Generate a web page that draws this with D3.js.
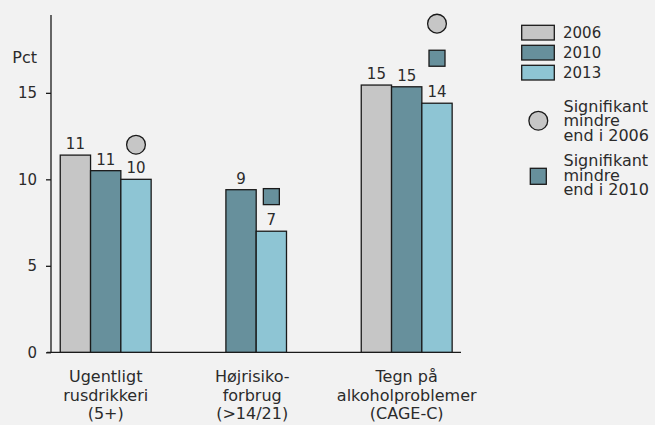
<!DOCTYPE html>
<html><head><meta charset="utf-8">
<script src="https://cdn.jsdelivr.net/npm/d3@7"></script>
<style>
html,body{margin:0;padding:0;background:#f2f2f2;}
svg{display:block;font-family:"DejaVu Sans",sans-serif;}
text{fill:#2b2b2b;}
</style></head>
<body>
<svg id="chart" width="655" height="425"></svg>
<script>
// ---- data ----
const categories = ["Ugentligt|rusdrikkeri|(5+)", "Højrisiko-|forbrug|(>14/21)", "Tegn på|alkoholproblemer|(CAGE-C)"];
const seriesNames = ["2006", "2010", "2013"];
const values2006 = [11.4, null, 15.45];
const values2010 = [10.5, 9.4, 15.35];
const values2013 = [10.0, 7.0, 14.4];
const seriesColors = ["#c6c6c6", "#67909c", "#8ec5d4"];
const yTicks = [0, 5, 10, 15];
// significance markers: category index, series, marker type, vertical level (Pct units)
const markerCat = [0, 1, 2, 2];
const markerSeries = ["2013", "2013", "2013", "2013"];
const markerType = ["circle", "square", "square", "circle"];
const markerLevel = [12, 9, 17, 19];
const legendMarkerLabels = [["Signifikant", "mindre", "end i 2006"], ["Signifikant", "mindre", "end i 2010"]];

const svg = d3.select("#chart");
const allValues = [values2006, values2010, values2013];

const y = d3.scaleLinear().domain([0, 19.5]).range([352.3, 15]);
const x = d3.scalePoint().domain(categories).range([105.7, 406.7]);
const barW = 30.3;

const groups = categories.map((c, i) => {
  const present = seriesNames.map((s, k) => ({ s, k, v: allValues[k][i] })).filter(d => d.v != null);
  const inner = d3.scaleBand().domain(present.map(d => d.s))
    .range([x(c) - barW * present.length / 2, x(c) + barW * present.length / 2]);
  return { c, i, present, inner };
});

const numSize = 15, wordSize = 16;

// axes lines
svg.append("line").attr("x1", 47).attr("x2", 461).attr("y1", y(0)).attr("y2", y(0))
  .attr("stroke", "#1a1a1a").attr("stroke-width", 1.3);

const yAxis = d3.axisLeft(y).tickValues(yTicks).tickSize(5).tickPadding(9).tickFormat(d3.format("d"));
const ga = svg.append("g").attr("transform", "translate(51,0)").call(yAxis);
ga.select(".domain").remove();
ga.selectAll(".tick line").attr("stroke", "#1a1a1a").attr("stroke-width", 1.3);
ga.selectAll(".tick text").attr("font-size", numSize).attr("font-family", "DejaVu Sans").attr("fill", "#2b2b2b");
svg.append("line").attr("x1", 51).attr("x2", 51).attr("y1", y(19.5)).attr("y2", y(0))
  .attr("stroke", "#1a1a1a").attr("stroke-width", 1.3);

svg.append("text").attr("x", 37).attr("y", 63).attr("text-anchor", "end")
  .attr("font-size", wordSize).text("Pct");

// bars
groups.forEach(g => {
  g.present.forEach(d => {
    svg.append("rect")
      .attr("x", g.inner(d.s)).attr("width", g.inner.bandwidth())
      .attr("y", y(d.v)).attr("height", y(0) - y(d.v))
      .attr("fill", seriesColors[d.k]).attr("stroke", "#1a1a1a").attr("stroke-width", 1.3);
    svg.append("text")
      .attr("x", g.inner(d.s) + g.inner.bandwidth() / 2).attr("y", y(d.v) - 6)
      .attr("text-anchor", "middle").attr("font-size", numSize)
      .text(d3.format(".0f")(d.v));
  });
  const t = svg.append("text").attr("text-anchor", "middle").attr("font-size", wordSize);
  g.c.split("|").forEach((line, j) => {
    t.append("tspan").attr("x", x(g.c) + (g.i === 1 ? -4 : 0)).attr("y", 382 + j * 18.5).text(line);
  });
});

// markers
function drawMarker(type, cx, cy) {
  if (type === "circle") {
    svg.append("circle").attr("cx", cx).attr("cy", cy).attr("r", 9.4)
      .attr("fill", seriesColors[0]).attr("stroke", "#1a1a1a").attr("stroke-width", 1.3);
  } else {
    svg.append("rect").attr("x", cx - 8).attr("y", cy - 8).attr("width", 16).attr("height", 16)
      .attr("fill", seriesColors[1]).attr("stroke", "#1a1a1a").attr("stroke-width", 1.3);
  }
}
markerCat.forEach((ci, m) => {
  const g = groups[ci];
  drawMarker(markerType[m], g.inner(markerSeries[m]) + g.inner.bandwidth() / 2, y(markerLevel[m]));
});

// legend
const leg = d3.scaleBand().domain(seriesNames).range([25.3, 85.3]).paddingInner(0);
seriesNames.forEach((s, k) => {
  svg.append("rect").attr("x", 521.7).attr("y", leg(s)).attr("width", 32.6).attr("height", 14.7)
    .attr("fill", seriesColors[k]).attr("stroke", "#1a1a1a").attr("stroke-width", 1.3);
  svg.append("text").attr("x", 563).attr("y", leg(s) + 7.4).attr("dy", "0.36em")
    .attr("font-size", numSize).text(s);
});
const legTypes = ["circle", "square"];
const legY = [120.7, 176.3];
const legTextY = [111.5, 166];
legTypes.forEach((tp, k) => {
  drawMarker(tp, 538.3, legY[k]);
  const t = svg.append("text").attr("font-size", wordSize);
  legendMarkerLabels[k].forEach((line, j) => {
    t.append("tspan").attr("x", 563.5).attr("y", legTextY[k] + j * 14.5).text(line);
  });
});
</script>
</body></html>
